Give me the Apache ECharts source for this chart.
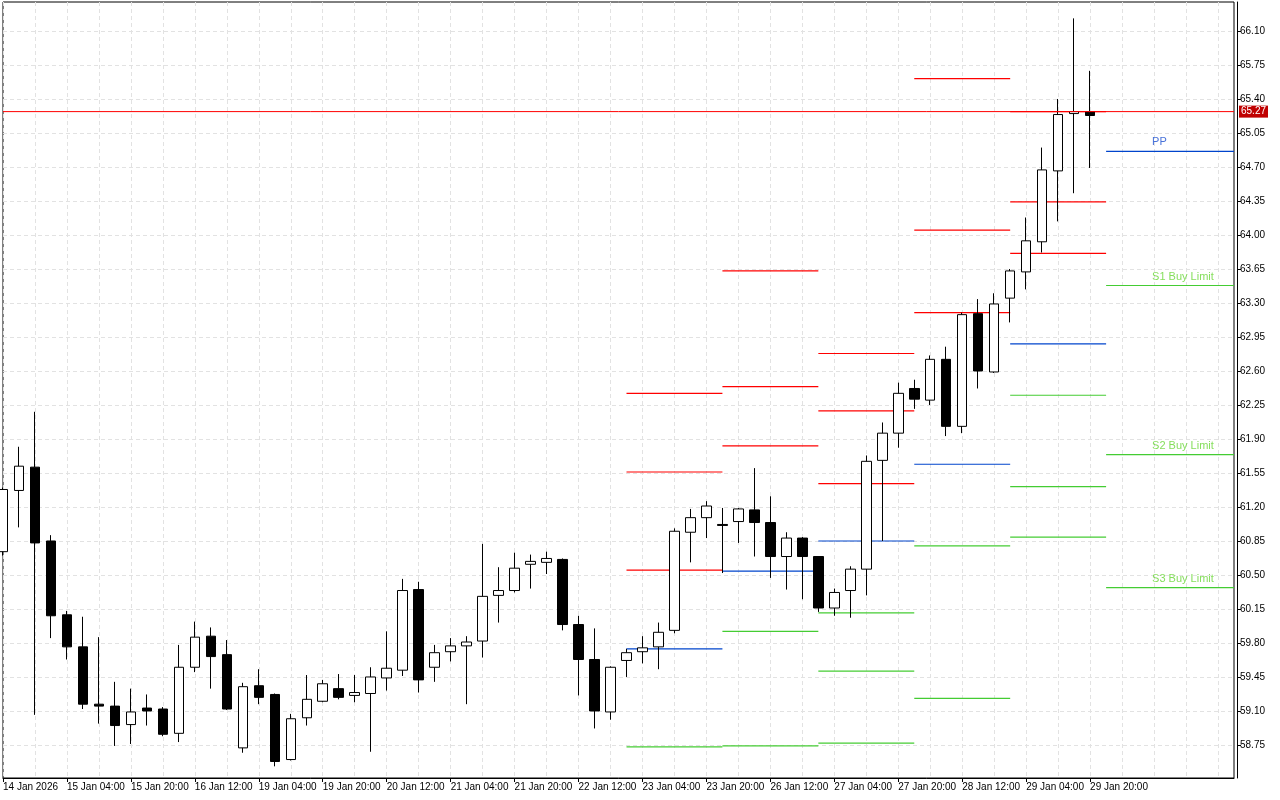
<!DOCTYPE html>
<html>
<head>
<meta charset="UTF-8">
<title>Candles with pivots</title>
<script src="https://cdn.jsdelivr.net/npm/echarts@6/dist/echarts.min.js"></script>
<style>body{margin:0;background:#fff}</style>
</head>
<body>
<div id="main" style="width:1280px;height:800px;"></div>
<script>
// trading days and their 4h candle hours
const days = [
  ['14 Jan', [12, 16, 20]],
  ['15 Jan', [0, 4, 8, 12, 16, 20]], ['16 Jan', [0, 4, 8, 12, 16, 20]],
  ['19 Jan', [0, 4, 8, 12, 16, 20]], ['20 Jan', [0, 4, 8, 12, 16, 20]],
  ['21 Jan', [0, 4, 8, 12, 16, 20]], ['22 Jan', [0, 4, 8, 12, 16, 20]],
  ['23 Jan', [0, 4, 8, 12, 16, 20]], ['26 Jan', [0, 4, 8, 12, 16, 20]],
  ['27 Jan', [0, 4, 8, 12, 16, 20]], ['28 Jan', [0, 4, 8, 12, 16, 20]],
  ['29 Jan', [0, 4, 8, 12, 16, 20]]
];
const emptySlots = 9;

// [open, close, low, high]
const ohlc = [
  [60.74,61.38,60.70,61.40],[61.37,61.62,60.99,61.82],[61.61,60.83,59.06,62.18],[60.85,60.08,59.85,60.91],
  [60.09,59.76,59.63,60.13],[59.76,59.17,59.12,60.07],[59.17,59.15,58.97,59.86],[59.15,58.95,58.74,59.40],
  [58.96,59.09,58.76,59.33],[59.13,59.10,58.95,59.27],[59.12,58.86,58.84,59.14],[58.87,59.55,58.78,59.78],
  [59.55,59.86,59.50,60.02],[59.87,59.66,59.33,59.96],[59.68,59.12,59.11,59.83],[58.72,59.35,58.67,59.39],
  [59.36,59.24,59.17,59.53],[59.27,58.58,58.53,59.28],[58.60,59.02,58.59,59.07],[59.03,59.22,58.95,59.47],
  [59.20,59.38,59.19,59.42],[59.33,59.24,59.22,59.48],[59.26,59.29,59.19,59.47],[59.28,59.45,58.68,59.55],
  [59.44,59.54,59.31,59.92],[59.52,60.34,59.46,60.46],[60.35,59.42,59.29,60.43],[59.55,59.70,59.40,59.78],
  [59.71,59.77,59.61,59.85],[59.77,59.81,59.17,59.87],[59.82,60.28,59.65,60.82],[60.29,60.34,60.01,60.58],
  [60.34,60.57,60.32,60.73],[60.61,60.64,60.36,60.71],[60.63,60.67,60.51,60.74],[60.66,59.99,59.93,60.67],
  [59.99,59.63,59.26,60.08],[59.63,59.10,58.92,59.95],[59.09,59.55,59.01,59.56],[59.62,59.70,59.45,59.74],
  [59.71,59.75,59.59,59.87],[59.76,59.91,59.53,60.01],[59.93,60.95,59.90,60.98],[60.94,61.09,60.63,61.18],
  [61.09,61.21,60.88,61.26],[61.02,61.01,60.52,61.19],[61.05,61.18,60.83,61.19],[61.17,61.04,60.69,61.60],
  [61.04,60.69,60.47,61.31],[60.69,60.88,60.35,60.94],[60.88,60.69,60.25,60.89],[60.69,60.16,60.12,60.69],
  [60.16,60.32,60.08,60.36],[60.34,60.56,60.06,60.59],[60.56,61.67,60.29,61.73],[61.68,61.96,60.85,62.07],
  [61.96,62.37,61.81,62.48],[62.42,62.31,62.21,62.51],[62.30,62.72,62.25,62.76],[62.72,62.03,61.93,62.85],
  [62.03,63.18,61.96,63.20],[63.19,62.60,62.42,63.34],[62.59,63.29,62.58,63.40],[63.35,63.63,63.10,63.65],
  [63.62,63.94,63.44,64.18],[63.93,64.67,63.82,64.90],[64.66,65.24,64.14,65.40],[65.25,65.27,64.43,66.23],
  [65.27,65.23,64.69,65.69]
];

const bidPrice = 65.27;
const priceTicks = [58.75, 59.10, 59.45, 59.80, 60.15, 60.50, 60.85, 61.20, 61.55, 61.90, 62.25,
  62.60, 62.95, 63.30, 63.65, 64.00, 64.35, 64.70, 65.05, 65.40, 65.75, 66.10];

// pivot segments: [startIndex, endIndex]
const segRanges = [[39, 45], [45, 51], [51, 57], [57, 63], [63, 69], [69, 77]];
const segRed   = [[62.37, 61.56, 60.55], [63.63, 62.44, 61.83], [62.78, 62.19, 61.44], [65.61, 64.05, 63.20], [65.27, 64.34, 63.81], []];
const segBlue  = [[59.74], [60.54], [60.85], [61.64], [62.88], [64.86]];
const segGreen = [[58.73], [59.92, 58.74], [60.11, 59.51, 58.77], [60.80, 59.23], [62.35, 61.41, 60.89], [63.48, 61.74, 60.37]];
const pivotLabels = ['PP', 'S1 Buy Limit', 'S2 Buy Limit', 'S3 Buy Limit'];
const pivotLabelLevels = [64.86, 63.48, 61.74, 60.37];

const cats = [];
days.forEach(function (d, di) {
  d[1].forEach(function (h, hi) {
    if (di === 0 && hi === 0) cats.push('14 Jan 2026');
    else cats.push(d[0] + ' ' + (h < 10 ? '0' : '') + h + ':00');
  });
});
for (let i = 0; i < emptySlots; i++) cats.push('');
const nReal = cats.length - emptySlots;
const lastIdx = cats.length - 1;

const yMin = 58.41, yMax = 66.3985;
const font = 'Liberation Sans';

const series = [{
  type: 'candlestick',
  data: ohlc,
  barWidth: 10,
  itemStyle: { color: '#ffffff', color0: '#000000', borderColor: '#000000', borderColor0: '#000000', borderWidth: 1 },
  z: 3
}, {
  // bid line with price box on the axis
  type: 'line', data: [[0, bidPrice], [lastIdx, bidPrice]],
  symbol: 'none', silent: true, animation: false,
  lineStyle: { color: '#ff0000', width: 1 }, z: 4,
  endLabel: {
    show: true, formatter: bidPrice.toFixed(2), color: '#fff', backgroundColor: '#c00000',
    fontFamily: font, fontSize: 10, padding: [1, 2], distance: 5
  }
}];

function addLevels(levels, color) {
  levels.forEach(function (lv, s) {
    lv.forEach(function (v) {
      series.push({
        type: 'line', data: [[segRanges[s][0], v], [segRanges[s][1], v]],
        symbol: 'none', silent: true, animation: false,
        lineStyle: { color: color, width: 1.2 }, z: 2
      });
    });
  });
}
addLevels(segRed, '#ff0000');
addLevels(segBlue, '#0044cc');
addLevels(segGreen, '#44cc33');

series.push({
  type: 'scatter', symbolSize: 1, itemStyle: { color: 'rgba(0,0,0,0)' }, silent: true, animation: false,
  data: pivotLabels.map(function (t, i) {
    return { value: [72, pivotLabelLevels[i]], name: t,
      label: { show: true, formatter: t, position: 'top', align: 'left', distance: 3, offset: [-2, 0],
        color: i === 0 ? '#1a4fd0' : '#66d633', fontFamily: font, fontSize: 11 } };
  })
});

const chart = echarts.init(document.getElementById('main'));
chart.setOption({
  animation: false,
  backgroundColor: '#fff',
  grid: { left: 2, right: 46, top: 2, bottom: 22, show: true, borderColor: '#000', borderWidth: 1 },
  xAxis: {
    type: 'category', data: cats, boundaryGap: false,
    axisLine: { lineStyle: { color: '#000' } },
    axisTick: { interval: function (i) { return i % 4 === 0 && i < nReal; }, length: 4, lineStyle: { color: '#000' } },
    axisLabel: { interval: 3, align: 'left', color: '#000', fontFamily: font, fontSize: 10, margin: 4 },
    splitLine: { show: true, interval: function (i) { return i % 2 === 0; }, lineStyle: { color: '#e2e2e2', type: [4, 3] } }
  },
  yAxis: {
    type: 'value', position: 'right', offset: 3, min: yMin, max: yMax,
    axisLine: { show: true, lineStyle: { color: '#000' } },
    axisTick: { show: true, length: 4, customValues: priceTicks, lineStyle: { color: '#000' } },
    axisLabel: { color: '#000', fontFamily: font, fontSize: 10, margin: 3, customValues: priceTicks,
      formatter: function (v) { return v.toFixed(2); } },
    splitLine: { show: true, lineStyle: { color: '#e2e2e2', type: [4, 3] } }
  },
  series: series
});
</script>
</body>
</html>
